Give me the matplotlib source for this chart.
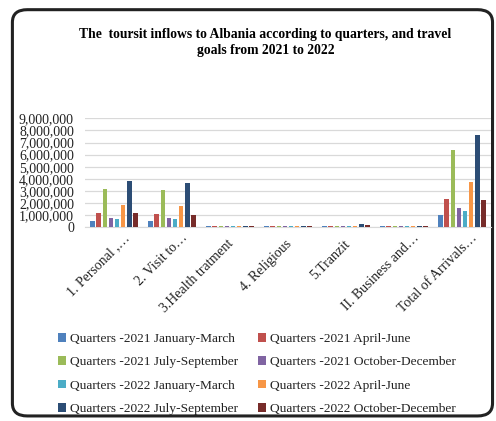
import matplotlib
matplotlib.use("Agg")
import matplotlib.pyplot as plt
import numpy as np
from matplotlib.patches import FancyBboxPatch
from matplotlib.ticker import FuncFormatter, MultipleLocator
from matplotlib.transforms import ScaledTranslation

categories = ["1. Personal ,\u2026", "2. Visit to\u2026", "3.Health tratment", "4. Religious",
              "5.Tranzit", "II. Business and\u2026", "Total of Arrivals\u2026"]
series_names = ["Quarters -2021 January-March", "Quarters -2021 April-June",
                "Quarters -2021 July-September", "Quarters -2021 October-December",
                "Quarters -2022 January-March", "Quarters -2022 April-June",
                "Quarters -2022 July-September", "Quarters -2022 October-December"]
q21_jan_mar = [520000, 520000, 110000, 110000, 110000, 110000, 1020000]
q21_apr_jun = [1210000, 1130000, 120000, 120000, 120000, 120000, 2340000]
q21_jul_sep = [3170000, 3110000, 120000, 120000, 120000, 120000, 6360000]
q21_oct_dec = [800000, 800000, 110000, 110000, 110000, 110000, 1600000]
q22_jan_mar = [660000, 690000, 110000, 110000, 110000, 110000, 1350000]
q22_apr_jun = [1870000, 1790000, 120000, 120000, 120000, 120000, 3720000]
q22_jul_sep = [3860000, 3660000, 130000, 130000, 260000, 130000, 7660000]
q22_oct_dec = [1160000, 1050000, 120000, 120000, 150000, 120000, 2230000]
series = [q21_jan_mar, q21_apr_jun, q21_jul_sep, q21_oct_dec,
          q22_jan_mar, q22_apr_jun, q22_jul_sep, q22_oct_dec]
colors = ["#4F81BD", "#C0504D", "#9BBB59", "#8064A2",
          "#4BACC6", "#F79646", "#2C4D75", "#772C2A"]

plt.rcParams['font.family'] = ['Liberation Serif', 'DejaVu Serif']

fig = plt.figure(figsize=(4.96, 4.21), dpi=100)
border = FancyBboxPatch((0.025, 0.012), 0.968, 0.965, boxstyle="round,pad=0,rounding_size=0.03",
                        transform=fig.transFigure, facecolor="white", edgecolor="#222222",
                        linewidth=2.2, zorder=-10)
fig.patches.append(border)

ax = fig.add_axes([85/496, 1 - 227.3/421, (491-85)/496, (227.3-118.3)/421])
n = len(series)
x = np.arange(len(categories))
group_w = 0.83
bw = group_w / n
for i, (vals, c, name) in enumerate(zip(series, colors, series_names)):
    ax.bar(x - group_w/2 + bw*(i+0.5), vals, width=bw*0.82, color=c, label=name, zorder=3)

ax.set_xlim(-0.5, len(categories) - 0.5)
ax.set_ylim(0, 9000000)
ax.yaxis.set_major_locator(MultipleLocator(1000000))
ax.yaxis.set_major_formatter(FuncFormatter(lambda v, p: f"{int(v):,}"))
ax.grid(axis='y', color="#D9D9D9", linewidth=0.9, zorder=0)
for s in ["top", "right", "left"]:
    ax.spines[s].set_visible(False)
ax.spines["bottom"].set_color("#D9D9D9")
ax.tick_params(axis='both', length=0, labelsize=10, colors="#222222")
ax.tick_params(axis='y', pad=8)
ax.set_xticks(x)
ax.set_xticklabels(categories, rotation=45, ha='right', rotation_mode='anchor', fontsize=10)
for lab in ax.get_xticklabels():
    if lab.get_text().endswith("\u2026"):
        dx, dy = 9/100, 1/100
    else:
        dx, dy = -3/100, -5/100
    lab.set_transform(lab.get_transform() + ScaledTranslation(dx, dy, fig.dpi_scale_trans))

fig.text(0.535, 0.90, "The  toursit inflows to Albania according to quarters, and travel\ngoals from 2021 to 2022",
         ha='center', va='center', fontsize=9.8, fontweight='bold', linespacing=1.3)

handles, labels = ax.get_legend_handles_labels()
order = [0, 2, 4, 6, 1, 3, 5, 7]
leg = fig.legend([handles[i] for i in order], [labels[i] for i in order], ncol=2, loc='upper left',
                 bbox_to_anchor=(46/496, 1 - 321/421),
                 frameon=False, fontsize=9.6, handlelength=0.6, handleheight=0.6, handletextpad=0.3,
                 columnspacing=1.5, labelspacing=0.85)
for t in leg.get_texts():
    t.set_color("#222222")

fig.savefig("out.png", dpi=100)
